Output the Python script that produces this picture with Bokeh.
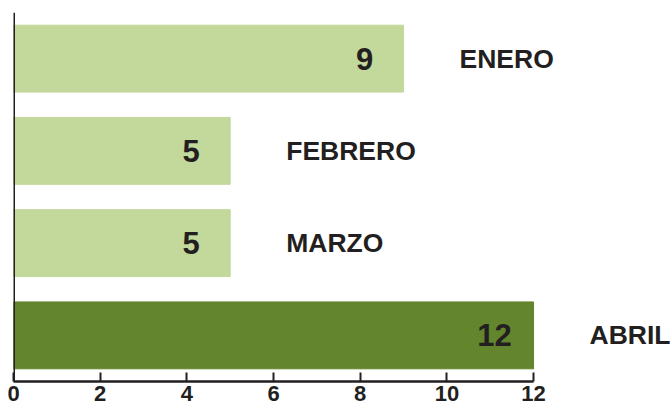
from bokeh.plotting import figure
from bokeh.models import ColumnDataSource, Range1d, FactorRange, Span, FixedTicker
from bokeh.core.properties import value
from bokeh.embed import file_html
from bokeh.resources import INLINE

months = ["ENERO", "FEBRERO", "MARZO", "ABRIL"]
counts = [9, 5, 5, 12]
colors = ["#C3D89B", "#C3D89B", "#C3D89B", "#62852E"]
ticks = [0, 2, 4, 6, 8, 10, 12]

src = ColumnDataSource(dict(m=months, v=counts, c=colors, lbl=[str(v) for v in counts]))

p = figure(width=670, height=407, output_backend="svg", toolbar_location=None,
           y_range=FactorRange(factors=list(reversed(months)), range_padding=0),
           x_range=Range1d(0, 15.16),
           min_border_left=13, min_border_right=0, min_border_top=12, min_border_bottom=26)
p.outline_line_color = None
p.grid.visible = False
p.yaxis.visible = False

p.hbar(y="m", right="v", left=0, height=0.725, color="c", source=src)

p.text(x="v", y="m", text="lbl", source=src, x_offset=-39, text_align="center",
       text_baseline="middle", text_font=value("Liberation Sans"), text_font_style="bold",
       text_font_size="31px", text_color="#231F20")
p.text(x="v", y="m", text="m", source=src, x_offset=56, text_align="left",
       text_baseline="middle", text_font=value("Liberation Sans"), text_font_style="bold",
       text_font_size="26.5px", text_color="#231F20")

p.add_layout(Span(location=0, dimension="height", line_color="#231F20", line_width=3))

ax = p.xaxis[0]
ax.ticker = FixedTicker(ticks=ticks)
ax.bounds = (0, 12)
ax.axis_line_width = 2.5
ax.axis_line_color = "#231F20"
ax.major_tick_in = 9
ax.major_tick_out = 0
ax.major_tick_line_width = 2
ax.major_tick_line_color = "#231F20"
ax.minor_tick_line_color = None
ax.major_label_standoff = 4
ax.major_label_text_font = "Liberation Sans"
ax.major_label_text_font_style = "bold"
ax.major_label_text_font_size = "22px"
ax.major_label_text_color = "#231F20"

open("out.html", "w").write(file_html(p, INLINE))
